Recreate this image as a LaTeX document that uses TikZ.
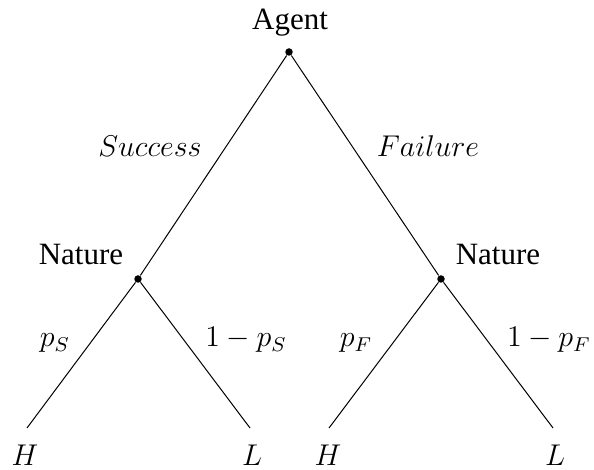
\documentclass[tikz,border=0pt]{standalone}
\usepackage{fontspec}
\newfontfamily\tnr{Liberation Serif}
\begin{document}
\begin{tikzpicture}[x=0.4pt,y=-0.4pt,
  dot/.style={circle,fill=black,inner sep=0pt,minimum size=3pt},
  txt/.style={anchor=base,inner sep=0pt,font=\fontsize{12.4}{14}\selectfont\tnr},
  lab/.style={anchor=base,inner sep=0pt,font=\fontsize{12}{14}\selectfont},
  edge/.style={line width=0.4pt}]
\useasboundingbox (0,0) rectangle (594,470);
\node[dot] (A) at (289,52) {};
\node[dot] (N1) at (138,279) {};
\node[dot] (N2) at (441,279) {};
\coordinate (L1) at (27,428);
\coordinate (L2) at (250,428);
\coordinate (L3) at (329,428);
\coordinate (L4) at (553,428);
\node[txt] (tA) at (290,30) {Agent};
\node[txt] (tN1) at (81,265) {Nature};
\node[txt] (tN2) at (498,265) {Nature};
\draw[edge] (A) -- (N1);
\draw[edge] (A) -- (N2);
\draw[edge] (N1) -- (L1);
\draw[edge] (N1) -- (L2);
\draw[edge] (N2) -- (L3);
\draw[edge] (N2) -- (L4);
\node[lab] (s) at (150,157) {$Success$};
\node[lab] (f) at (428,157) {$Failure$};
\node[lab] (p1) at (55,347) {$p_S$};
\node[lab] (p2) at (246,347) {$1-p_S$};
\node[lab] (p3) at (356,347) {$p_F$};
\node[lab] (p4) at (549,347) {$1-p_F$};
\node[lab] (h1) at (25,466) {$H$};
\node[lab] (l1) at (252,466) {$L$};
\node[lab] (h2) at (328,466) {$H$};
\node[lab] (l2) at (555,466) {$L$};
\end{tikzpicture}
\end{document}
